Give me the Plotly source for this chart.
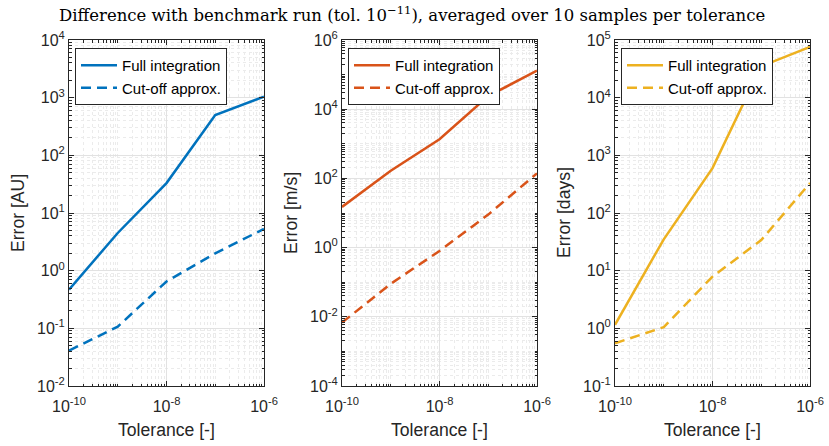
import plotly.graph_objects as go

# Tolerances used for the runs
tolerance = [1e-10, 1e-9, 1e-8, 1e-7, 1e-6]

# Position error [AU]
au_full = [0.47, 4.5, 33, 500, 1040]
au_cutoff = [0.041, 0.107, 0.65, 2.0, 5.3]

# Velocity error [m/s]
ms_full = [15, 167, 1350, 24000, 130000]
ms_cutoff = [0.0068, 0.09, 0.8, 9, 140]

# Timing error [days]
days_full = [1.15, 35, 600, 35000, 76000]
days_cutoff = [0.55, 1.05, 7.9, 34, 330]

# Decade exponents shown as tick labels
x_tick_exp = [-10, -8, -6]
y_tick_exp = [
    [-2, -1, 0, 1, 2, 3, 4],
    [-4, -2, 0, 2, 4, 6],
    [-1, 0, 1, 2, 3, 4, 5],
]

panel_titles = ["Error [AU]", "Error [m/s]", "Error [days]"]
colors = ["#0072BD", "#D95319", "#EDB120"]

W, H = 829, 446
x_px = [(69, 264), (342, 537), (615, 810)]
y_px = (40, 386)
ytitle_px = [18, 291, 564]

AX = "#262626"
FONT = "Liberation Sans, Arial, Helvetica, sans-serif"


def power_label(e):
    return "10<sup>%d</sup>" % e


def minor_values(lo, hi, major):
    vals = []
    for e in range(lo, hi):
        for m in range(1, 10):
            if m == 1 and e in major:
                continue
            vals.append(m * 10.0 ** e)
    return vals


fig = go.Figure()
series = [(au_full, au_cutoff), (ms_full, ms_cutoff), (days_full, days_cutoff)]

for i, ((full, cut), col) in enumerate(zip(series, colors)):
    suffix = "" if i == 0 else str(i + 1)
    leg = "legend" + suffix
    fig.add_trace(go.Scatter(
        x=tolerance, y=full, mode="lines", name="Full integration",
        line=dict(color=col, width=2.5), xaxis="x" + suffix, yaxis="y" + suffix,
        legend=leg))
    fig.add_trace(go.Scatter(
        x=tolerance, y=cut, mode="lines", name="Cut-off approx.",
        line=dict(color=col, width=2.5, dash="10px,6px"), xaxis="x" + suffix,
        yaxis="y" + suffix, legend=leg))

layout = dict(
    width=W, height=H, margin=dict(l=0, r=0, t=0, b=0),
    paper_bgcolor="white", plot_bgcolor="white",
    font=dict(family=FONT, size=16, color=AX),
)

y0 = 1 - y_px[1] / H
y1 = 1 - y_px[0] / H


def log_axis(exps, standoff):
    lo, hi = exps[0], exps[-1]
    return dict(
        type="log", range=[lo, hi], showline=True, linecolor=AX, linewidth=1,
        mirror="allticks", ticks="inside", ticklen=5, tickcolor=AX, tickwidth=1,
        showgrid=True, gridcolor="#e2e2e2", gridwidth=1, zeroline=False,
        tickmode="array", tickvals=[10.0 ** e for e in exps],
        ticktext=[power_label(e) for e in exps],
        ticklabelstandoff=standoff,
        tickfont=dict(family=FONT, size=16, color=AX),
        minor=dict(tickmode="array", tickvals=minor_values(lo, hi, exps),
                   ticks="inside", ticklen=2.5, tickcolor=AX,
                   showgrid=True, gridcolor="#ebebeb", griddash="dot", gridwidth=1),
        automargin=False,
    )


annotations = []
for i in range(3):
    suffix = "" if i == 0 else str(i + 1)
    xa = log_axis(x_tick_exp, 6)
    xa.update(domain=[x_px[i][0] / W, x_px[i][1] / W], anchor="y" + suffix)
    ya = log_axis(y_tick_exp[i], 0)
    ya.update(domain=[y0, y1], anchor="x" + suffix)
    layout["xaxis" + suffix] = xa
    layout["yaxis" + suffix] = ya
    layout["legend" + suffix] = dict(
        x=(x_px[i][0] + 6) / W, y=1 - 48 / H, xanchor="left", yanchor="top",
        bgcolor="white", bordercolor=AX, borderwidth=1,
        font=dict(family=FONT, size=15, color="black"),
        tracegroupgap=0, itemwidth=36,
    )
    annotations.append(dict(
        text="Tolerance [-]", x=(x_px[i][0] + x_px[i][1]) / 2 / W, y=1 - 430 / H,
        xref="paper", yref="paper", showarrow=False, xanchor="center", yanchor="middle",
        font=dict(family=FONT, size=17.6, color=AX)))
    annotations.append(dict(
        text=panel_titles[i], x=ytitle_px[i] / W, y=1 - 213 / H, textangle=-90,
        xref="paper", yref="paper", showarrow=False, xanchor="center", yanchor="middle",
        font=dict(family=FONT, size=17.6, color=AX)))

annotations.append(dict(
    text="Difference with benchmark run (tol. 10<sup>\u221211</sup>), averaged over 10 samples per tolerance",
    x=412 / W, y=1 - 14 / H, xref="paper", yref="paper", showarrow=False,
    xanchor="center", yanchor="middle",
    font=dict(family="DejaVu Serif, Liberation Serif, serif", size=16.5, color="black")))

layout["annotations"] = annotations
layout["showlegend"] = True
fig.update_layout(**layout)

fig.write_html("out.html")
